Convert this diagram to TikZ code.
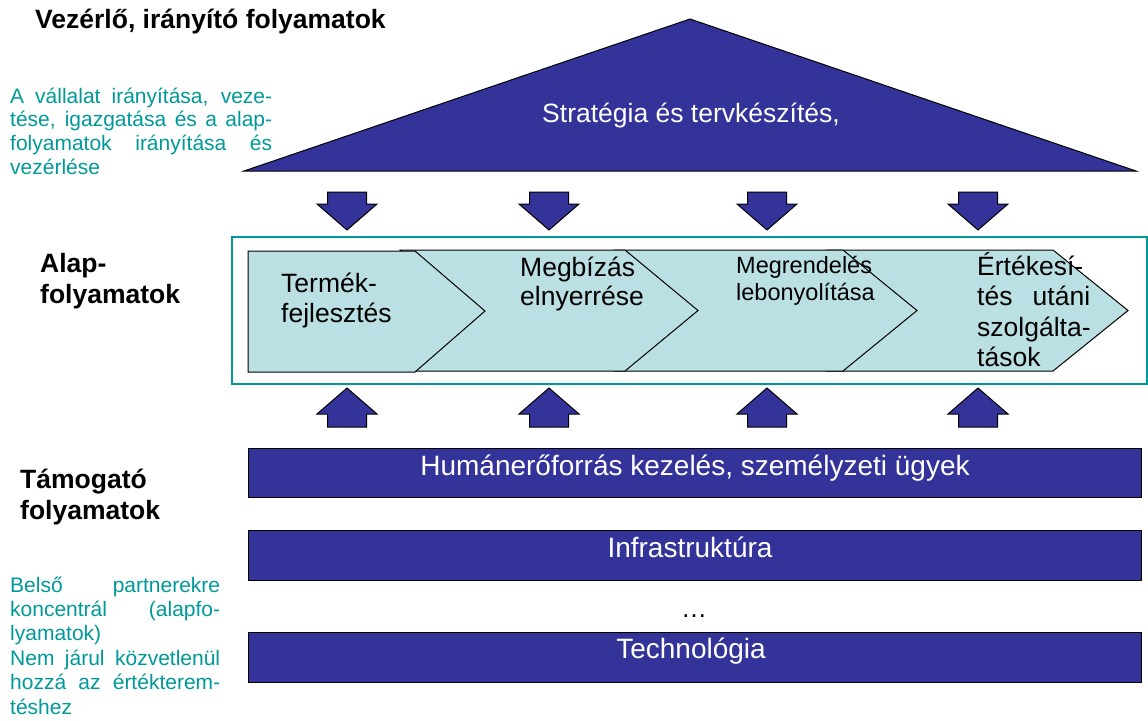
\documentclass[tikz,border=0pt]{standalone}
\usepackage{fontspec}
\setmainfont{Liberation Sans}
\definecolor{dkblue}{RGB}{51,51,153}
\definecolor{tealc}{RGB}{0,153,153}
\definecolor{chevfill}{RGB}{187,224,227}
\newcommand{\jl}[2]{\makebox[#1][s]{#2}}
\begin{document}
\begin{tikzpicture}[x=1pt,y=-1pt,
  shapeblue/.style={fill=dkblue, draw=black, line width=1pt},
  chev/.style={fill=chevfill, draw=black, line width=1pt},
  wtext/.style={text=white, inner sep=0pt, anchor=base},
  lbl/.style={font=\fontsize{26.5}{30}\selectfont\bfseries, inner sep=0pt, anchor=base west},
  note/.style={text=tealc, inner sep=0pt, anchor=base west, font=\fontsize{21}{24}\selectfont},
  ctext/.style={inner sep=0pt, anchor=base west, font=\fontsize{26.5}{30}\selectfont}]
\useasboundingbox (0,0) rectangle (1148,720);
\fill[white] (0,0) rectangle (1148,720);

% triangle
\draw[shapeblue] (690,19) -- (1136,171) -- (244,171) -- cycle;
\node[wtext, font=\fontsize{26.5}{30}\selectfont] (strat) at (691,122) {Stratégia és tervkészítés,};

% down arrows
\foreach \cx in {347,549,767,978}
  \draw[shapeblue, shift={(\cx,0)}] (-19.5,192) -- (19.5,192) -- (19.5,204) -- (30,204) -- (0,230) -- (-30,204) -- (-19.5,204) -- cycle;

% frame
\draw[tealc, line width=2pt] (232,237) rectangle (1147,384);

% chevrons
\draw[chev] (827,250) -- (1053,250) -- (1128,310.5) -- (1053,371) -- (827,371) -- (899,310.5) -- cycle;
\draw[chev] (615,250) -- (843,250) -- (917,310.5) -- (843,371) -- (615,371) -- (687,310.5) -- cycle;
\draw[chev] (400,250) -- (625,250) -- (698,310.5) -- (625,371) -- (400,371) -- (472,310.5) -- cycle;
\draw[chev] (248,251) -- (415,251) -- (485,311) -- (415,372) -- (248,372) -- cycle;

\node[ctext] (c1) at (281,292) {\vtop{\baselineskip=30pt\hbox{Termék-}\hbox{fejlesztés}}};
\node[ctext] (c2) at (520,276) {\vtop{\baselineskip=29pt\hbox{Megbízás}\hbox{elnyerrése}}};
\node[ctext, font=\fontsize{23.5}{27}\selectfont] (c3) at (736,273) {\vtop{\baselineskip=27pt\hbox{Megrendelés}\hbox{lebonyolítása}}};
\node[ctext] (c4) at (977,275) {\vtop{\baselineskip=30.5pt\hbox{Értékesí-}\hbox{\jl{113pt}{tés utáni}}\hbox{szolgálta-}\hbox{tások}}};

% up arrows
\foreach \cx in {347,549,767,978}
  \draw[shapeblue, shift={(\cx,0)}] (0,388) -- (30,414) -- (19.5,414) -- (19.5,427) -- (-19.5,427) -- (-19.5,414) -- (-30,414) -- cycle;

% bars
\draw[shapeblue] (248,448) rectangle (1141,497);
\node[wtext, font=\fontsize{28}{32}\selectfont] (hum) at (695,475) {Humánerőforrás kezelés, személyzeti ügyek};
\draw[shapeblue] (248,530) rectangle (1141,580);
\node[wtext, font=\fontsize{28}{32}\selectfont] (infra) at (690,557) {Infrastruktúra};
\node[inner sep=0pt, anchor=base, font=\fontsize{26}{30}\selectfont] (dots) at (694,617) {…};
\draw[shapeblue] (248,632) rectangle (1141,682);
\node[wtext, font=\fontsize{28}{32}\selectfont] (tech) at (691,658) {Technológia};

% left labels
\node[lbl] (title) at (35,28) {Vezérlő, irányító folyamatok};
\node[lbl] (alap) at (40,272) {\vtop{\baselineskip=31pt\hbox{Alap-}\hbox{folyamatok}}};
\node[lbl] (tam) at (20,488) {\vtop{\baselineskip=31pt\hbox{Támogató}\hbox{folyamatok}}};

\node[note] (n1) at (10,103) {\vtop{\baselineskip=23.7pt
  \hbox{\jl{262pt}{A vállalat irányítása, veze-}}
  \hbox{\jl{262pt}{tése, igazgatása és a alap-}}
  \hbox{\jl{262pt}{folyamatok irányítása és}}
  \hbox{vezérlése}}};
\node[note] (n2) at (10,592) {\vtop{\baselineskip=24.4pt
  \hbox{\jl{210pt}{Belső partnerekre}}
  \hbox{\jl{210pt}{koncentrál (alapfo-}}
  \hbox{lyamatok)}
  \hbox{\jl{210pt}{Nem járul közvetlenül}}
  \hbox{\jl{210pt}{hozzá az értékterem-}}
  \hbox{téshez}}};
\end{tikzpicture}
\end{document}
